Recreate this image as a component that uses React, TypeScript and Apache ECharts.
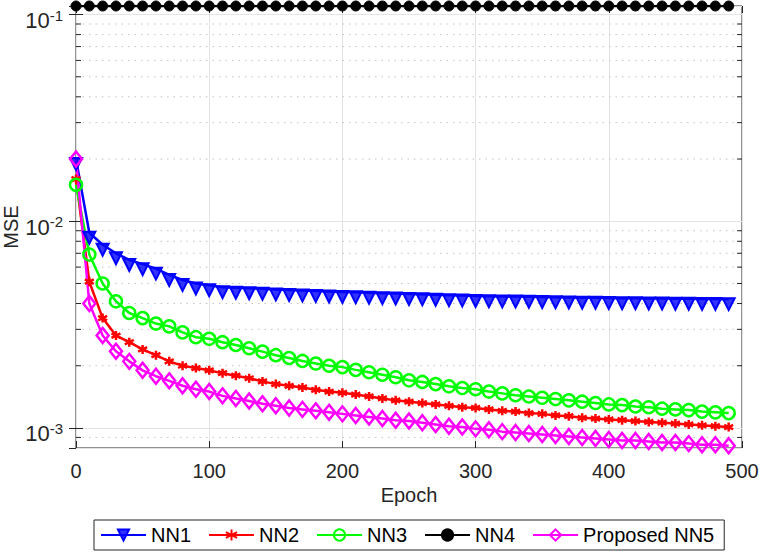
import React, { useEffect, useRef } from 'react';
import * as echarts from 'echarts';

const epochs = [0, 10, 20, 30, 40, 50, 60, 70, 80, 90, 100, 110, 120, 130, 140, 150, 160, 170, 180, 190, 200, 210, 220, 230, 240, 250, 260, 270, 280, 290, 300, 310, 320, 330, 340, 350, 360, 370, 380, 390, 400, 410, 420, 430, 440, 450, 460, 470, 480, 490];

const nn1 = [0.020, 0.0088, 0.0077, 0.0070, 0.0065, 0.0062, 0.0059, 0.0055, 0.0052, 0.0050, 0.0049, 0.0048, 0.00477, 0.00474, 0.00471, 0.00468, 0.00465, 0.00462, 0.0046, 0.00457, 0.00455, 0.00453, 0.00451, 0.00449, 0.00447, 0.00445, 0.00443, 0.00441, 0.00439, 0.00437, 0.00435, 0.00434, 0.00433, 0.00432, 0.00431, 0.0043, 0.00429, 0.00428, 0.00427, 0.00426, 0.00425, 0.00424, 0.00424, 0.00423, 0.00423, 0.00422, 0.00422, 0.00421, 0.00421, 0.0042];

const nn2 = [0.016, 0.0051, 0.0034, 0.0028, 0.0026, 0.0024, 0.00225, 0.0021, 0.0020, 0.00195, 0.0019, 0.00184, 0.00179, 0.00174, 0.00168, 0.00163, 0.0016, 0.00157, 0.00153, 0.0015, 0.00148, 0.00145, 0.00142, 0.00139, 0.00136, 0.00134, 0.00132, 0.0013, 0.00128, 0.00126, 0.00125, 0.00123, 0.00121, 0.0012, 0.00118, 0.00117, 0.00115, 0.00114, 0.00112, 0.00111, 0.0011, 0.00109, 0.00108, 0.00107, 0.00106, 0.00105, 0.00104, 0.00103, 0.00102, 0.00101];

const nn3 = [0.015, 0.0069, 0.0050, 0.0041, 0.0036, 0.0034, 0.0032, 0.0031, 0.0029, 0.00275, 0.0027, 0.0026, 0.00252, 0.00243, 0.00234, 0.00225, 0.00218, 0.00211, 0.00205, 0.002, 0.00197, 0.00191, 0.00186, 0.00181, 0.00176, 0.0017, 0.00167, 0.00163, 0.00159, 0.00156, 0.00154, 0.0015, 0.00147, 0.00144, 0.00142, 0.0014, 0.00138, 0.00136, 0.00134, 0.00132, 0.0013, 0.00129, 0.00127, 0.00126, 0.00124, 0.00123, 0.00122, 0.0012, 0.00119, 0.00118];

const nn4 = [0.11, 0.11, 0.11, 0.11, 0.11, 0.11, 0.11, 0.11, 0.11, 0.11, 0.11, 0.11, 0.11, 0.11, 0.11, 0.11, 0.11, 0.11, 0.11, 0.11, 0.11, 0.11, 0.11, 0.11, 0.11, 0.11, 0.11, 0.11, 0.11, 0.11, 0.11, 0.11, 0.11, 0.11, 0.11, 0.11, 0.11, 0.11, 0.11, 0.11, 0.11, 0.11, 0.11, 0.11, 0.11, 0.11, 0.11, 0.11, 0.11, 0.11];

const nn5 = [0.020, 0.0040, 0.0028, 0.00235, 0.0021, 0.0019, 0.00178, 0.00169, 0.0016, 0.00154, 0.0015, 0.00143, 0.00139, 0.00135, 0.00131, 0.00128, 0.00125, 0.00123, 0.00121, 0.00119, 0.00117, 0.00115, 0.00113, 0.00111, 0.00109, 0.00108, 0.00106, 0.00104, 0.00102, 0.00101, 0.00099, 0.00098, 0.00096, 0.00095, 0.00094, 0.00093, 0.00092, 0.00091, 0.0009, 0.00089, 0.00088, 0.00087, 0.00087, 0.00086, 0.00085, 0.00085, 0.00084, 0.00083, 0.00083, 0.00082];

const seriesNames = ['NN1', 'NN2', 'NN3', 'NN4', 'Proposed NN5'];
const minorGrid = [0.0009, 0.002, 0.003, 0.004, 0.005, 0.006, 0.007, 0.008, 0.009, 0.02, 0.03, 0.04, 0.05, 0.06, 0.07, 0.08, 0.09];
const yMin = 0.0008;
const yMax = 0.11;
const xMin = 0;
const xMax = 500;
const xStep = 100;

export default function App() {
  const ref = useRef<HTMLDivElement>(null);
  useEffect(() => {
    const chart = echarts.init(ref.current!, null, { renderer: 'svg' });
    const zip = (ys: number[]) => epochs.map((e, i) => [e, ys[i]]);
    const font = '"Liberation Sans", Arial, Helvetica, sans-serif';
    const axisColor = '#262626';
    const gridColor = '#e3e3e3';
    const asterisk = 'path://M0,-10L0,10M-8.66,-5L8.66,5M-8.66,5L8.66,-5';
    const clear = 'rgba(255,255,255,0)';

    const option: any = {
      animation: false,
      backgroundColor: '#fff',
      grid: {
        left: 76, right: 20, top: 6, bottom: 107,
        containLabel: false, outerBoundsMode: 'none',
        show: true, borderColor: axisColor, borderWidth: 1, backgroundColor: '#fff',
      },
      legend: {
        data: seriesNames,
        left: 94, top: 520,
        itemWidth: 45, itemHeight: 14, itemGap: 17,
        padding: [5, 10, 5, 6],
        borderColor: axisColor, borderWidth: 1, backgroundColor: '#fff',
        textStyle: { fontSize: 20, color: '#000', fontFamily: font },
      },
      xAxis: [
        {
          type: 'value', min: xMin, max: xMax, interval: xStep, position: 'bottom',
          name: 'Epoch', nameLocation: 'middle', nameGap: 37, nameMoveOverlap: false,
          nameTextStyle: { fontSize: 20, color: axisColor, fontFamily: font },
          axisLine: { show: false },
          axisTick: { show: true, inside: true, length: 7, lineStyle: { color: axisColor } },
          axisLabel: { fontSize: 20, color: axisColor, fontFamily: font, margin: 13 },
          splitLine: { show: true, lineStyle: { color: gridColor, width: 1 } },
        },
        {
          type: 'value', min: xMin, max: xMax, interval: xStep, position: 'top',
          axisLine: { show: false },
          axisTick: { show: true, inside: true, length: 7, lineStyle: { color: axisColor } },
          axisLabel: { show: false },
          splitLine: { show: false },
        },
      ],
      yAxis: [
        {
          type: 'log', logBase: 10, min: yMin, max: yMax, position: 'left',
          name: 'MSE', nameLocation: 'middle', nameGap: 55, nameMoveOverlap: false,
          nameTextStyle: { fontSize: 20, color: axisColor, fontFamily: font },
          axisLine: { show: false },
          axisTick: { show: true, inside: true, length: 7, lineStyle: { color: axisColor } },
          axisLabel: {
            margin: 13, showMinLabel: false, showMaxLabel: false,
            padding: [10, 0, 0, 0],
            fontSize: 21,
            formatter: (v: number) => `{b|10}{s|${Math.round(Math.log10(v))}}`,
            rich: {
              b: { fontSize: 22, fontFamily: font, color: axisColor, verticalAlign: 'bottom', lineHeight: 24 },
              s: { fontSize: 15, fontFamily: font, color: axisColor, verticalAlign: 'top', lineHeight: 15 },
            },
          },
          splitLine: { show: true, lineStyle: { color: gridColor, width: 1 } },
        },
        {
          type: 'log', logBase: 10, min: yMin, max: yMax, position: 'right',
          axisLine: { show: false },
          axisTick: { show: true, inside: true, length: 7, lineStyle: { color: axisColor } },
          axisLabel: { show: false },
          splitLine: { show: false },
        },
      ],
      series: [
        {
          type: 'custom', name: 'minor', silent: true, z: 1, clip: false,
          xAxisIndex: 0, yAxisIndex: 0,
          data: minorGrid.map((v) => [0, v]),
          renderItem: (params: any, api: any) => {
            const y = api.coord([0, api.value(1)])[1];
            const cs = params.coordSys;
            const x0 = cs.x;
            const x1 = cs.x + cs.width;
            return {
              type: 'group',
              children: [
                { type: 'line', shape: { x1: x0, y1: y, x2: x1, y2: y }, style: { stroke: '#c4c4c4', lineWidth: 1, lineDash: [1.5, 5] } },
                { type: 'line', shape: { x1: x0, y1: y, x2: x0 + 5, y2: y }, style: { stroke: axisColor, lineWidth: 1 } },
                { type: 'line', shape: { x1: x1 - 5, y1: y, x2: x1, y2: y }, style: { stroke: axisColor, lineWidth: 1 } },
              ],
            };
          },
        },
        {
          type: 'line', name: 'NN1', data: zip(nn1),
          symbol: 'triangle', symbolRotate: 180, symbolSize: [12, 12], symbolOffset: [0, 5],
          itemStyle: { color: 'rgba(0,0,255,0.8)', borderColor: '#0000ff', borderWidth: 2 },
          lineStyle: { color: '#0000ff', width: 2.5 },
        },
        {
          type: 'line', name: 'NN2', data: zip(nn2),
          symbol: asterisk, symbolSize: 9,
          itemStyle: { color: clear, borderColor: '#ff0000', borderWidth: 2.5 },
          lineStyle: { color: '#ff0000', width: 2.5 },
        },
        {
          type: 'line', name: 'NN3', data: zip(nn3),
          symbol: 'circle', symbolSize: 12,
          itemStyle: { color: clear, borderColor: '#00ff00', borderWidth: 2.5 },
          lineStyle: { color: '#00ff00', width: 2.5 },
        },
        {
          type: 'line', name: 'NN4', data: zip(nn4),
          symbol: 'circle', symbolSize: 10,
          itemStyle: { color: '#000000', borderColor: '#000000', borderWidth: 1 },
          lineStyle: { color: '#000000', width: 2.5 },
        },
        {
          type: 'line', name: 'Proposed NN5', data: zip(nn5),
          symbol: 'diamond', symbolSize: [12, 15],
          itemStyle: { color: clear, borderColor: '#ff00ff', borderWidth: 2.5 },
          lineStyle: { color: '#ff00ff', width: 2.5 },
        },
      ],
    };
    chart.setOption(option);
    return () => chart.dispose();
  }, []);
  return <div ref={ref} style={{ position: 'absolute', left: 0, top: 0, width: 762, height: 555 }} />;
}
